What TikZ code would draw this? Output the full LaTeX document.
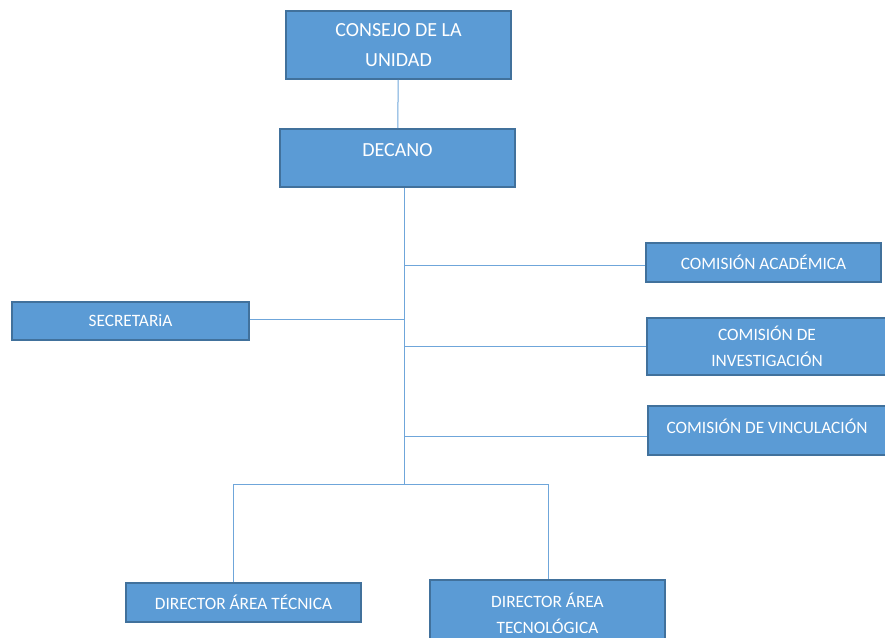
\documentclass[tikz,border=0pt]{standalone}
\usepackage{fontspec}
\setmainfont{Carlito}
\usetikzlibrary{positioning}
\definecolor{boxfill}{HTML}{5B9BD5}
\definecolor{boxline}{HTML}{41719C}
\definecolor{wire}{HTML}{6FA6DA}
\begin{document}
\begin{tikzpicture}[x=0.75pt, y=-0.75pt]

% Define styles for the nodes
\tikzstyle{unit} = [rectangle, draw=boxline, line width=1.2pt, fill=boxfill, text=white, align=center, inner sep=0pt, font=\fontsize{13}{19.5}\selectfont]
\tikzstyle{bigunit} = [unit, font=\fontsize{15}{22.5}\selectfont]
\tikzstyle{wireline} = [draw=wire, line width=0.75pt]

\useasboundingbox (0,0) rectangle (885,637);

% Nodes
\node (consejo) [bigunit, minimum width=168.75pt, minimum height=51pt] at (398.5,45) {CONSEJO DE LA\\UNIDAD};
\node (decano) [bigunit, minimum width=176.25pt, minimum height=43.5pt, text depth=12pt] at (397.5,158) {DECANO};
\node (academica) [unit, minimum width=176.25pt, minimum height=29.25pt] at (763.5,262.5) {COMISIÓN ACADÉMICA};
\node (secretaria) [unit, minimum width=177.75pt, minimum height=28.5pt] at (130.5,321) {SECRETARiA};
\node (investigacion) [unit, minimum width=180pt, minimum height=42.75pt] at (767,346.5) {COMISIÓN DE\\INVESTIGACIÓN};
\node (vinculacion) [unit, minimum width=178.5pt, minimum height=36.75pt, text depth=6pt] at (767,430.5) {COMISIÓN DE VINCULACIÓN};
\node (tecnica) [unit, minimum width=176.25pt, minimum height=29.25pt] at (243.5,602.5) {DIRECTOR ÁREA TÉCNICA};
\node (tecnologica) [unit, minimum width=176.25pt, minimum height=49.5pt] at (547.5,613) {DIRECTOR ÁREA\\TECNOLÓGICA};

\coordinate (hub) at (404,484);
\coordinate (barL) at (233,484);
\coordinate (barR) at (548,484);

% Lines
\draw[wireline] (consejo) -- (decano);
\draw[wireline] (decano.south -| hub) -- (hub);
\draw[wireline] ([yshift=-2.5pt]academica.west -| hub) -- ([yshift=-2.5pt]academica.west);
\draw[wireline] ([yshift=1.5pt]secretaria.east) -- ([yshift=1.5pt]secretaria.east -| hub);
\draw[wireline] (investigacion.west -| hub) -- (investigacion.west);
\draw[wireline] ([yshift=-4.5pt]vinculacion.west -| hub) -- ([yshift=-4.5pt]vinculacion.west);
\draw[wireline] (barL) -- (barR);
\draw[wireline] (barL) -- (barL |- tecnica.north);
\draw[wireline] (barR) -- (barR |- tecnologica.north);

\end{tikzpicture}
\end{document}
